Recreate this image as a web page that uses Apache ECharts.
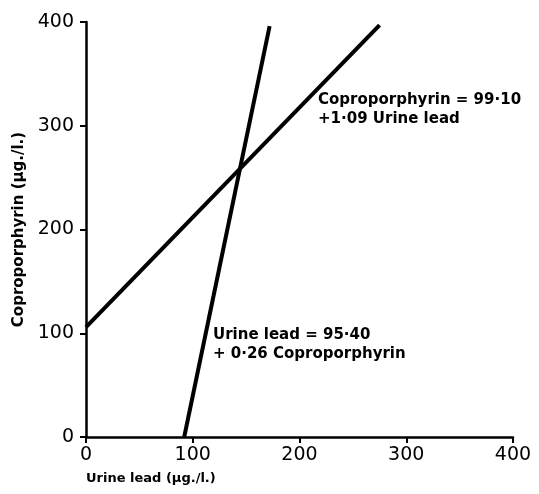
<!DOCTYPE html>
<html>
<head>
<meta charset="utf-8">
<script src="https://cdn.jsdelivr.net/npm/echarts@6/dist/echarts.min.js"></script>
<style>
  html, body { margin: 0; padding: 0; background: #fff; }
  #chart { width: 539px; height: 494px; }
</style>
</head>
<body>
<div id="chart"></div>
<script>
// line end points (urine lead, coproporphyrin)
const coproLine = [[0, 106], [275, 397]];
const leadLine = [[92, 0], [172, 396]];
const tickValues = [0, 100, 200, 300, 400];
const coproEquation = ['Coproporphyrin = 99·10', '+1·09 Urine lead'];
const leadEquation = ['Urine lead = 95·40', '+ 0·26 Coproporphyrin'];

const font = '"DejaVu Sans"';
const ink = '#000';

const chart = echarts.init(document.getElementById('chart'));

const axisCommon = {
  type: 'value',
  min: tickValues[0],
  max: tickValues[tickValues.length - 1],
  interval: 100,
  splitLine: { show: false },
  axisLine: { show: true, lineStyle: { color: ink, width: 2.5 } },
  axisTick: { show: true, length: 6, lineStyle: { color: ink, width: 2 } },
  axisLabel: { color: ink, fontFamily: font, fontSize: 19 }
};

const option = {
  animation: false,
  backgroundColor: '#fff',
  grid: { left: 86, right: 26, top: 22, bottom: 57 },
  xAxis: {
    ...axisCommon,
    axisLabel: { ...axisCommon.axisLabel, margin: 9 }
  },
  yAxis: {
    ...axisCommon,
    axisLabel: { ...axisCommon.axisLabel, margin: 12 },
    name: 'Coproporphyrin (µg./l.)',
    nameLocation: 'middle',
    nameGap: 58,
    nameTextStyle: { color: ink, fontFamily: font, fontSize: 15, fontWeight: 'bold' }
  },
  series: [
    {
      type: 'line',
      data: coproLine,
      showSymbol: false,
      lineStyle: { color: ink, width: 4 }
    },
    {
      type: 'line',
      data: leadLine,
      showSymbol: false,
      lineStyle: { color: ink, width: 4 }
    }
  ],
  graphic: [
    {
      type: 'text', left: 86, top: 472,
      style: { text: 'Urine lead (µg./l.)', fill: ink, font: 'bold 13px ' + font }
    },
    {
      type: 'text', left: 318, top: 91,
      style: { text: coproEquation.join('\n'), fill: ink, font: 'bold 15px ' + font, lineHeight: 19 }
    },
    {
      type: 'text', left: 213, top: 326,
      style: { text: leadEquation.join('\n'), fill: ink, font: 'bold 15px ' + font, lineHeight: 19 }
    }
  ]
};

chart.setOption(option);
</script>
</body>
</html>
